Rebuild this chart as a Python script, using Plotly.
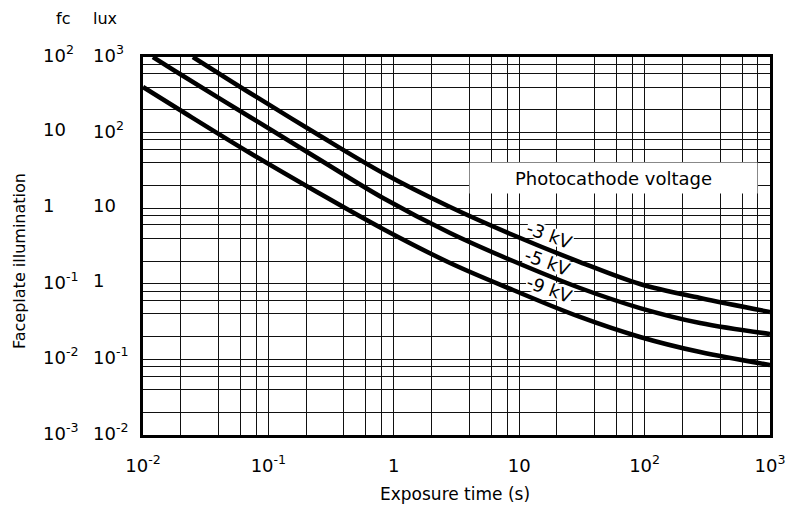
import plotly.graph_objects as go

# ---- data (exposure time in s, illumination in lux) ----
t_3kv = [0.025, 0.0713, 0.244, 0.82, 2.81, 8.93, 30.5, 91.9, 277, 1000]
lux_3kv = [1000, 334, 95.8, 29.2, 10.37, 4.42, 1.94, 0.994, 0.649, 0.424]

t_5kv = [0.012, 0.0197, 0.0713, 0.244, 0.82, 2.81, 8.93, 30.5, 91.9, 277, 1000]
lux_5kv = [1000, 596, 160.8, 46.1, 13.64, 4.70, 2.00, 0.880, 0.478, 0.303, 0.217]

t_9kv = [0.01, 0.0197, 0.0713, 0.244, 0.82, 2.81, 8.93, 30.5, 91.9, 277, 1000]
lux_9kv = [401, 199, 53.7, 16.38, 5.31, 1.884, 0.828, 0.364, 0.198, 0.125, 0.0843]

series_names = ["-3 kV", "-5 kV", "-9 kV"]

x_decades = [0.01, 0.1, 1, 10, 100, 1000]
x_tick_text = ["10<sup>-2</sup>", "10<sup>-1</sup>", "1", "10", "10<sup>2</sup>", "10<sup>3</sup>"]
y_decades = [0.01, 0.1, 1, 10, 100, 1000]
lux_tick_text = ["10<sup>-2</sup>", "10<sup>-1</sup>", "1", "10", "10<sup>2</sup>", "10<sup>3</sup>"]
fc_tick_text = ["10<sup>-3</sup>", "10<sup>-2</sup>", "10<sup>-1</sup>", "1", "10", "10<sup>2</sup>"]
grid_multipliers = [2, 4, 6, 8]

FONT = "DejaVu Sans"

minor_x = [d * m for d in x_decades[:-1] for m in grid_multipliers]
minor_y = [d * m for d in y_decades[:-1] for m in grid_multipliers]

fig = go.Figure()
for t, lux, name in [(t_3kv, lux_3kv, series_names[0]),
                     (t_5kv, lux_5kv, series_names[1]),
                     (t_9kv, lux_9kv, series_names[2])]:
    fig.add_trace(go.Scatter(x=t, y=lux, mode="lines", name=name,
                             line=dict(color="black", width=4.5, shape="spline", smoothing=1.0),
                             showlegend=False, cliponaxis=True))

axis_common = dict(
    type="log", range=[-2, 3], automargin=False,
    showgrid=True, gridcolor="#111", gridwidth=1,
    showline=True, linecolor="black", linewidth=3, mirror=True,
    ticks="", zeroline=False,
)

fig.update_xaxes(**axis_common, tickvals=x_decades, ticktext=x_tick_text,
                 tickfont=dict(family=FONT, size=18, color="black"),
                 ticklabelstandoff=12,
                 minor=dict(tickvals=minor_x, showgrid=True, gridcolor="#111", gridwidth=1, ticks=""))
fig.update_yaxes(**axis_common, tickvals=y_decades, showticklabels=False,
                 minor=dict(tickvals=minor_y, showgrid=True, gridcolor="#111", gridwidth=1, ticks=""))

ann = []
# two columns of y tick labels
for i, v in enumerate(y_decades):
    yp = i / 5.0
    ann.append(dict(x=-0.083, y=yp, xref="paper", yref="paper", text=lux_tick_text[i],
                    showarrow=False, xanchor="left", yanchor="middle", yshift=3,
                    font=dict(family=FONT, size=18, color="black")))
    ann.append(dict(x=-0.163, y=yp, xref="paper", yref="paper", text=fc_tick_text[i],
                    showarrow=False, xanchor="left", yanchor="middle", yshift=3,
                    font=dict(family=FONT, size=18, color="black")))
# column headers
ann.append(dict(x=-0.128, y=1.0, xref="paper", yref="paper", text="fc", showarrow=False,
                xanchor="center", yanchor="middle", yshift=39,
                font=dict(family=FONT, size=16, color="black")))
ann.append(dict(x=-0.061, y=1.0, xref="paper", yref="paper", text="lux", showarrow=False,
                xanchor="center", yanchor="middle", yshift=39,
                font=dict(family=FONT, size=16, color="black")))
# axis titles
ann.append(dict(x=-0.198, y=0.46, xref="paper", yref="paper", text="Faceplate illumination",
                showarrow=False, textangle=-90, xanchor="center", yanchor="middle",
                font=dict(family=FONT, size=16, color="black")))
ann.append(dict(x=0.4976, y=-0.156, xref="paper", yref="paper", text="Exposure time (s)",
                showarrow=False, xanchor="center", yanchor="middle",
                font=dict(family=FONT, size=17, color="black")))
# legend-like title box
ann.append(dict(x=0.751, y=0.681, xref="paper", yref="paper", text="Photocathode voltage",
                showarrow=False, xanchor="center", yanchor="middle", bgcolor="white",
                width=285, height=28, font=dict(family=FONT, size=18, color="black")))
# curve labels (sitting just above their curves)
for name, (px, py) in zip(series_names, [(549, 235), (547, 262), (549, 289)]):
    ann.append(dict(x=(px - 143) / 627.0, y=1 - (py - 57) / 378.0, xref="paper", yref="paper",
                    text=name, showarrow=False, textangle=20, xanchor="center", yanchor="middle",
                    bgcolor="white", borderpad=0, height=16,
                    font=dict(family=FONT, size=18, color="black")))

fig.update_layout(
    width=787, height=513,
    margin=dict(l=143, r=17, t=57, b=78),
    paper_bgcolor="white", plot_bgcolor="white",
    annotations=ann,
    font=dict(family=FONT, color="black"),
)

fig.write_html("out.html")
